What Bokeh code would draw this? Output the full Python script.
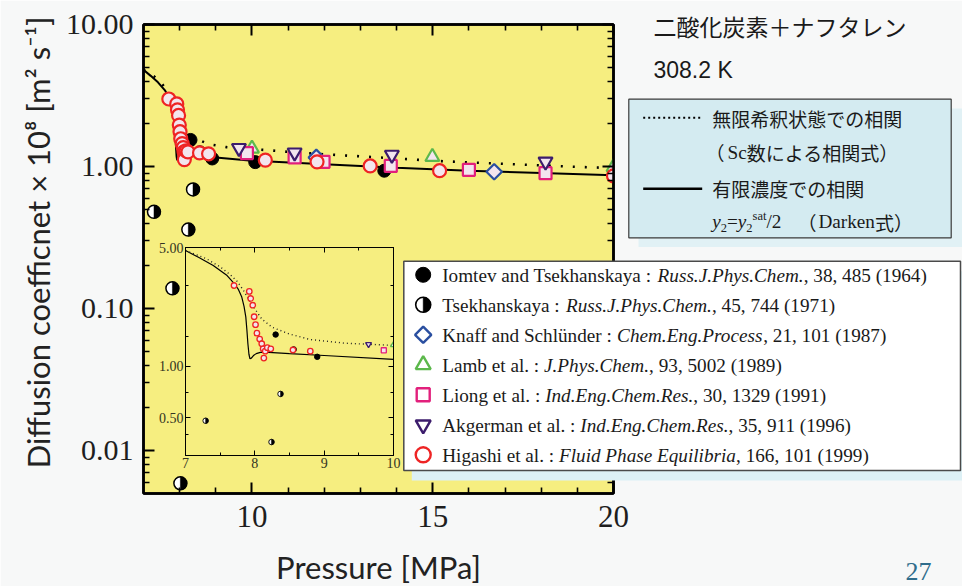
import math
from bokeh.plotting import figure
from bokeh.models import (Range1d, FixedTicker, PrintfTickFormatter, LinearAxis, LogAxis, GridBox,
                          CustomJSTickFormatter)
from bokeh.embed import file_html
from bokeh.resources import INLINE
from bokeh.core.properties import value

# ---------------- data ----------------
# correlation curves
solid_x = [7.0, 7.2, 7.4, 7.6, 7.7, 7.76, 7.81, 7.845, 7.87, 7.885, 7.90, 7.915, 7.93, 7.95, 7.98,
           8.02, 8.08, 8.2, 8.5, 9.0, 10.0, 12.0, 14.0, 16.0, 18.0, 20.0]
solid_y = [4.8, 4.35, 3.92, 3.42, 3.08, 2.85, 2.57, 2.25, 1.95, 1.65, 1.36, 1.18, 1.11, 1.12, 1.16,
           1.19, 1.21, 1.21, 1.19, 1.16, 1.10, 1.04, 0.98, 0.935, 0.90, 0.87]
dot_x = [7.0, 7.3, 7.5, 7.65, 7.75, 7.84, 7.92, 8.0, 8.1, 8.25, 8.5, 8.8, 9.3, 10.0, 11.0, 12.0,
         13.0, 14.0, 15.0, 16.0, 17.0, 18.0, 19.0, 20.0]
dot_y = [4.8, 4.3, 3.85, 3.45, 3.15, 2.78, 2.45, 2.18, 1.9, 1.7, 1.55, 1.44, 1.37, 1.33, 1.27, 1.22,
         1.18, 1.14, 1.10, 1.07, 1.045, 1.02, 0.995, 0.975]

iomtev_x = [8.30, 8.56, 8.90, 10.09, 13.66]
iomtev_y = [1.54, 1.26, 1.14, 1.075, 0.935]
tsek_x = [7.29, 7.80, 8.02, 8.24, 8.37]
tsek_y = [0.48, 0.139, 0.0059, 0.36, 0.69]
knaff_x = [11.78, 16.70]
knaff_y = [1.16, 0.92]
lamb_x = [10.0, 14.99, 20.0]
lamb_y = [1.34, 1.17, 0.99]
liong_x = [9.86, 11.18, 11.98, 13.84, 16.0, 18.12]
liong_y = [1.245, 1.16, 1.08, 1.01, 0.948, 0.898]
akger_x = [9.64, 11.18, 13.87, 18.12]
akger_y = [1.35, 1.255, 1.21, 1.084]
higashi_x = [7.70, 7.92, 7.94, 7.97, 7.99, 8.01, 8.03, 8.07, 8.10, 8.12, 8.15, 8.13, 8.18, 8.23,
             8.55, 8.80, 10.37, 11.80, 13.27, 15.19, 20.0]
higashi_y = [2.99, 2.76, 2.51, 2.29, 1.96, 1.76, 1.57, 1.45, 1.36, 1.27, 1.23, 1.12, 1.29, 1.27,
             1.25, 1.23, 1.11, 1.08, 1.01, 0.935, 0.86]

# ticks
x_major = [10, 15, 20]
x_minor = [8, 9, 11, 12, 13, 14, 16, 17, 18, 19]
y_major = [0.01, 0.1, 1, 10]
y_minor = [0.006, 0.007, 0.008, 0.009, 0.02, 0.03, 0.04, 0.05, 0.06, 0.07, 0.08, 0.09,
           0.2, 0.3, 0.4, 0.5, 0.6, 0.7, 0.8, 0.9, 2, 3, 4, 5, 6, 7, 8, 9]
ins_x_major = [7, 8, 9, 10]
ins_x_minor = [7.5, 8.5, 9.5]
ins_y_major = [0.5, 1, 5]
ins_y_minor = [0.4, 0.7, 1.5, 3]

# texts
title_jp = "二酸化炭素＋ナフタレン"
temp_text = "308.2 K"
x_label = "Pressure [MPa]"
y_label = "Diffusion coefficnet × 10⁸ [m² s⁻¹]"
legend_rows = [
    ("Iomtev and Tsekhanskaya : ", "Russ.J.Phys.Chem.", ", 38, 485 (1964)"),
    ("Tsekhanskaya : ", "Russ.J.Phys.Chem.", ", 45, 744 (1971)"),
    ("Knaff and Schlünder : ", "Chem.Eng.Process", ", 21, 101 (1987)"),
    ("Lamb et al. : ", "J.Phys.Chem.", ", 93, 5002 (1989)"),
    ("Liong et al. : ", "Ind.Eng.Chem.Res.", ", 30, 1329 (1991)"),
    ("Akgerman et al. : ", "Ind.Eng.Chem.Res.", ", 35, 911 (1996)"),
    ("Higashi et al. : ", "Fluid Phase Equilibria", ", 166, 101 (1999)"),
]
page_no = "27"

# ---------------- styles ----------------
W, H = 962, 586
BG = "#f7f8f8"
YEL = "#f6ee80"
FILL = "#f3e5ee"
RED = "#ee2424"
BLUE = "#2a4fa0"
GREEN = "#5cb84c"
PINK = "#e2207c"
PURPLE = "#3c1c6c"
SERIF = "Liberation Serif"
SANS = "Lato"
CJK = "Noto Sans CJK JP"
INK = "#1a1a1a"

REG = {' ': 250, ',': 250, '.': 250, ':': 278, '(': 333, ')': 333, '=': 564, '/': 278,
       'A': 722, 'D': 722, 'H': 722, 'I': 333, 'K': 722, 'L': 611, 'S': 556, 'T': 611,
       'a': 444, 'b': 500, 'c': 444, 'd': 500, 'e': 444, 'f': 333, 'g': 500, 'h': 500, 'i': 278,
       'k': 500, 'l': 278, 'm': 778, 'n': 500, 'o': 500, 'p': 500, 'r': 333, 's': 389, 't': 278,
       'u': 500, 'v': 500, 'y': 500, 'ü': 500}
ITA = {' ': 250, '.': 250, 'C': 667, 'E': 611, 'F': 611, 'I': 333, 'J': 444, 'P': 611, 'R': 611,
       'a': 500, 'b': 500, 'c': 444, 'd': 500, 'e': 444, 'g': 500, 'h': 500, 'i': 278, 'l': 278,
       'm': 722, 'n': 500, 'o': 500, 'q': 500, 'r': 389, 's': 389, 'u': 500, 'y': 444}


def tw(s, table, size):
    return sum(table.get(c, 500) for c in s) * size / 1000.0


def style_axis(ax, tin, tmin, lw, tlw, mlw, size, font=SERIF, standoff=8, color="#1e1e1e"):
    ax.axis_line_color = "black"
    ax.axis_line_width = lw
    ax.major_tick_in = tin
    ax.major_tick_out = 0
    ax.minor_tick_in = tmin
    ax.minor_tick_out = 0
    ax.major_tick_line_color = "black"
    ax.minor_tick_line_color = "black"
    ax.major_tick_line_width = tlw
    ax.minor_tick_line_width = mlw
    ax.major_label_text_font = font
    ax.major_label_text_font_size = size
    ax.major_label_text_color = color
    ax.major_label_standoff = standoff


def hidden_axis(cls, ticker, tin, tmin, lw, tlw, mlw):
    ax = cls(ticker=ticker, formatter=CustomJSTickFormatter(code="return ''"))
    style_axis(ax, tin, tmin, lw, tlw, mlw, "6px", standoff=0)
    return ax


def draw_data(fig, s, lw_scale):
    fig.line(solid_x, solid_y, line_color="black", line_width=2.0 * lw_scale)
    if lw_scale == 1:
        fig.line(dot_x, dot_y, line_color="black", line_width=2.6, line_dash="2 10")
    else:
        fig.line(dot_x, dot_y, line_color="#222222", line_width=1.4, line_dash="1 3")
    fig.scatter(iomtev_x, iomtev_y, marker="circle", size=13 * s, fill_color="black", line_color="black")
    fig.scatter(tsek_x, tsek_y, marker="circle", size=13 * s, fill_color="white", line_color="black",
                line_width=1.5 * lw_scale)
    fig.wedge(x=tsek_x, y=tsek_y, radius=6.5 * s, radius_units="screen", start_angle=-math.pi / 2,
              end_angle=math.pi / 2, fill_color="black", line_color="black", line_width=0.5)
    fig.scatter(knaff_x, knaff_y, marker="square", angle=math.pi / 4, size=11 * s, fill_color=FILL,
                line_color=BLUE, line_width=2.2 * lw_scale)
    fig.scatter(lamb_x, lamb_y, marker="triangle", size=14 * s, fill_color=FILL, line_color=GREEN,
                line_width=2.2 * lw_scale)
    fig.scatter(liong_x, liong_y, marker="square", size=12 * s, fill_color=FILL, line_color=PINK,
                line_width=2.2 * lw_scale)
    fig.scatter(akger_x, akger_y, marker="inverted_triangle", size=14 * s, fill_color=FILL,
                line_color=PURPLE, line_width=2.2 * lw_scale)
    fig.scatter(higashi_x, higashi_y, marker="circle", size=13 * s, fill_color=FILL, line_color=RED,
                line_width=2.2 * lw_scale)


# ---------------- main plot ----------------
p = figure(width=W, height=H, output_backend="svg", toolbar_location=None,
           x_range=Range1d(7, 20), y_range=Range1d(0.005, 10), y_axis_type="log",
           min_border_left=143, min_border_right=349, min_border_top=24, min_border_bottom=93,
           background_fill_color=YEL, border_fill_color=BG)
p.frame_align = False
p.title.visible = False
p.grid.visible = False
p.outline_line_color = "black"
p.outline_line_width = 2.5
xt = FixedTicker(ticks=x_major, minor_ticks=x_minor)
yt = FixedTicker(ticks=y_major, minor_ticks=y_minor)
p.xaxis.ticker = xt
p.yaxis.ticker = yt
p.yaxis.formatter = PrintfTickFormatter(format="%.2f")
style_axis(p.xaxis[0], 11, 6, 2.5, 2, 1.6, "31px", standoff=12)
style_axis(p.yaxis[0], 11, 6, 2.5, 2, 1.6, "30px", standoff=10)
p.add_layout(hidden_axis(LinearAxis, xt, 11, 6, 2.5, 2, 1.6), "above")
p.add_layout(hidden_axis(LogAxis, yt, 11, 6, 2.5, 2, 1.6), "right")
draw_data(p, 1.0, 1)

# ---------------- inset ----------------
q = figure(width=W, height=H, output_backend="svg", toolbar_location=None,
           x_range=Range1d(7, 10), y_range=Range1d(0.3, 5), y_axis_type="log",
           min_border_left=185, min_border_right=569, min_border_top=247, min_border_bottom=131,
           background_fill_color=YEL, border_fill_color=None)
q.frame_align = False
q.title.visible = False
q.grid.visible = False
q.outline_line_color = "#111111"
q.outline_line_width = 1
ixt = FixedTicker(ticks=ins_x_major, minor_ticks=ins_x_minor)
iyt = FixedTicker(ticks=ins_y_major, minor_ticks=ins_y_minor)
q.xaxis.ticker = ixt
q.yaxis.ticker = iyt
q.yaxis.formatter = PrintfTickFormatter(format="%.2f")
style_axis(q.xaxis[0], 5, 3, 1, 1, 1, "14px", standoff=2, color="#333322")
style_axis(q.yaxis[0], 5, 3, 1, 1, 1, "14px", standoff=2, color="#333322")
q.add_layout(hidden_axis(LinearAxis, ixt, 5, 3, 1, 1, 1), "above")
q.add_layout(hidden_axis(LogAxis, iyt, 5, 3, 1, 1, 1), "right")
draw_data(q, 0.42, 0.6)

# ---------------- overlay (texts, legend boxes) in page pixels ----------------
o = figure(width=W, height=H, output_backend="svg", toolbar_location=None,
           x_range=Range1d(0, W), y_range=Range1d(H, 0), min_border=0,
           x_axis_location=None, y_axis_location=None,
           background_fill_color=None, border_fill_color=None, outline_line_color=None)
o.frame_align = False
o.title.visible = False
o.grid.visible = False


def txt(x, y, s, font, size, style="normal", align="left", color=INK, angle=0.0):
    o.text(x=[x], y=[y], text=[s], text_font=value(font), text_font_size=f"{size}px",
           text_font_style=style, text_color=color, text_align=align, text_baseline="middle",
           angle=angle)


# axis titles
txt(378, 566, x_label, SANS, 31, align="center", color="#222222")
txt(37, 242, y_label, SANS, 31, align="center", color="#222222", angle=math.pi / 2)

# title texts
txt(653, 25, title_jp, CJK, 23)
txt(653, 69, temp_text, "Liberation Sans", 23)

# blue correlation box
o.quad(left=[638], right=[962], top=[108], bottom=[246.5], fill_color="#e1f1f5", line_color=None)
o.quad(left=[628.3], right=[950.7], top=[98.7], bottom=[237.3], fill_color="#d4ebf1",
       line_color="#3a3a3a", line_width=1.2)
o.line(x=[642.7, 701.7], y=[117.3, 117.3], line_color="black", line_width=2, line_dash="2 3")
o.line(x=[642.7, 701.7], y=[188.3, 188.3], line_color="black", line_width=2.5)
txt(711.7, 117.5, "無限希釈状態での相関", CJK, 19)
txt(705, 151.7, "（", CJK, 19)
txt(727, 152, "Sc", SERIF, 19.2)
txt(746.2, 151.7, "数による相関式）", CJK, 19)
txt(711.7, 188, "有限濃度での相関", CJK, 19)
# y2 = y2^sat / 2   (Darken式)
bx = 711.7
base = 227.3
pieces = [("y", 19.2, 0, "italic", ITA), ("2", 12.5, 4, "normal", REG), ("=", 19.2, 0, "normal", REG),
          ("y", 19.2, 0, "italic", ITA), ("2", 12.5, 4, "normal", REG), ("sat", 12.5, -8, "normal", REG),
          ("/2", 19.2, 0, "normal", REG)]
for s, sz, dy, st, tab in pieces:
    txt(bx, base + dy - 0.3375 * sz, s, SERIF, sz, style=st)
    bx += tw(s, tab, sz)
txt(797, 221.5, "（", CJK, 19)
txt(818, base - 0.3375 * 19.2, "Darken", SERIF, 19.2)
txt(818 + tw("Darken", REG, 19.2), 221.5, "式）", CJK, 19)

# data legend box
o.quad(left=[411.3], right=[962], top=[270.7], bottom=[480], fill_color="#dcf0f5", line_color=None)
o.quad(left=[403.3], right=[960], top=[260.7], bottom=[470], fill_color="white",
       line_color="#4a4a4a", line_width=1.5)
mx = 422.7
my = [274.3 + 30 * i for i in range(7)]
o.scatter([mx], [my[0]], marker="circle", size=15, fill_color="black", line_color="black")
o.scatter([mx], [my[1]], marker="circle", size=15, fill_color="white", line_color="black", line_width=1.6)
o.wedge(x=[mx], y=[my[1]], radius=7.5, radius_units="screen", start_angle=-math.pi / 2,
        end_angle=math.pi / 2, fill_color="black", line_color="black", line_width=0.5)
o.scatter([mx], [my[2]], marker="square", angle=math.pi / 4, size=11.5, fill_color="white",
          line_color=BLUE, line_width=2.4)
o.scatter([mx], [my[3]], marker="triangle", size=15, fill_color="white", line_color=GREEN, line_width=2.4)
o.scatter([mx], [my[4]], marker="square", size=13, fill_color="white", line_color=PINK, line_width=2.4)
o.scatter([mx], [my[5]], marker="inverted_triangle", size=15, fill_color="white", line_color=PURPLE,
          line_width=2.4)
o.scatter([mx], [my[6]], marker="circle", size=15, fill_color="white", line_color=RED, line_width=2.4)
LS = 19.2
for i, (a, b, c) in enumerate(legend_rows):
    yc = 274.5 + 30 * i
    x0 = 441.7
    txt(x0, yc, a, SERIF, LS)
    x1 = x0 + tw(a, REG, LS)
    txt(x1, yc, b, SERIF, LS, style="italic")
    x2 = x1 + tw(b, ITA, LS)
    txt(x2, yc, c, SERIF, LS)

# page number
txt(905, 571, page_no, SERIF, 26, color="#2f6d8c")

layout = GridBox(children=[(p, 0, 0), (q, 0, 0), (o, 0, 0)])
open("out.html", "w").write(file_html(layout, INLINE))
